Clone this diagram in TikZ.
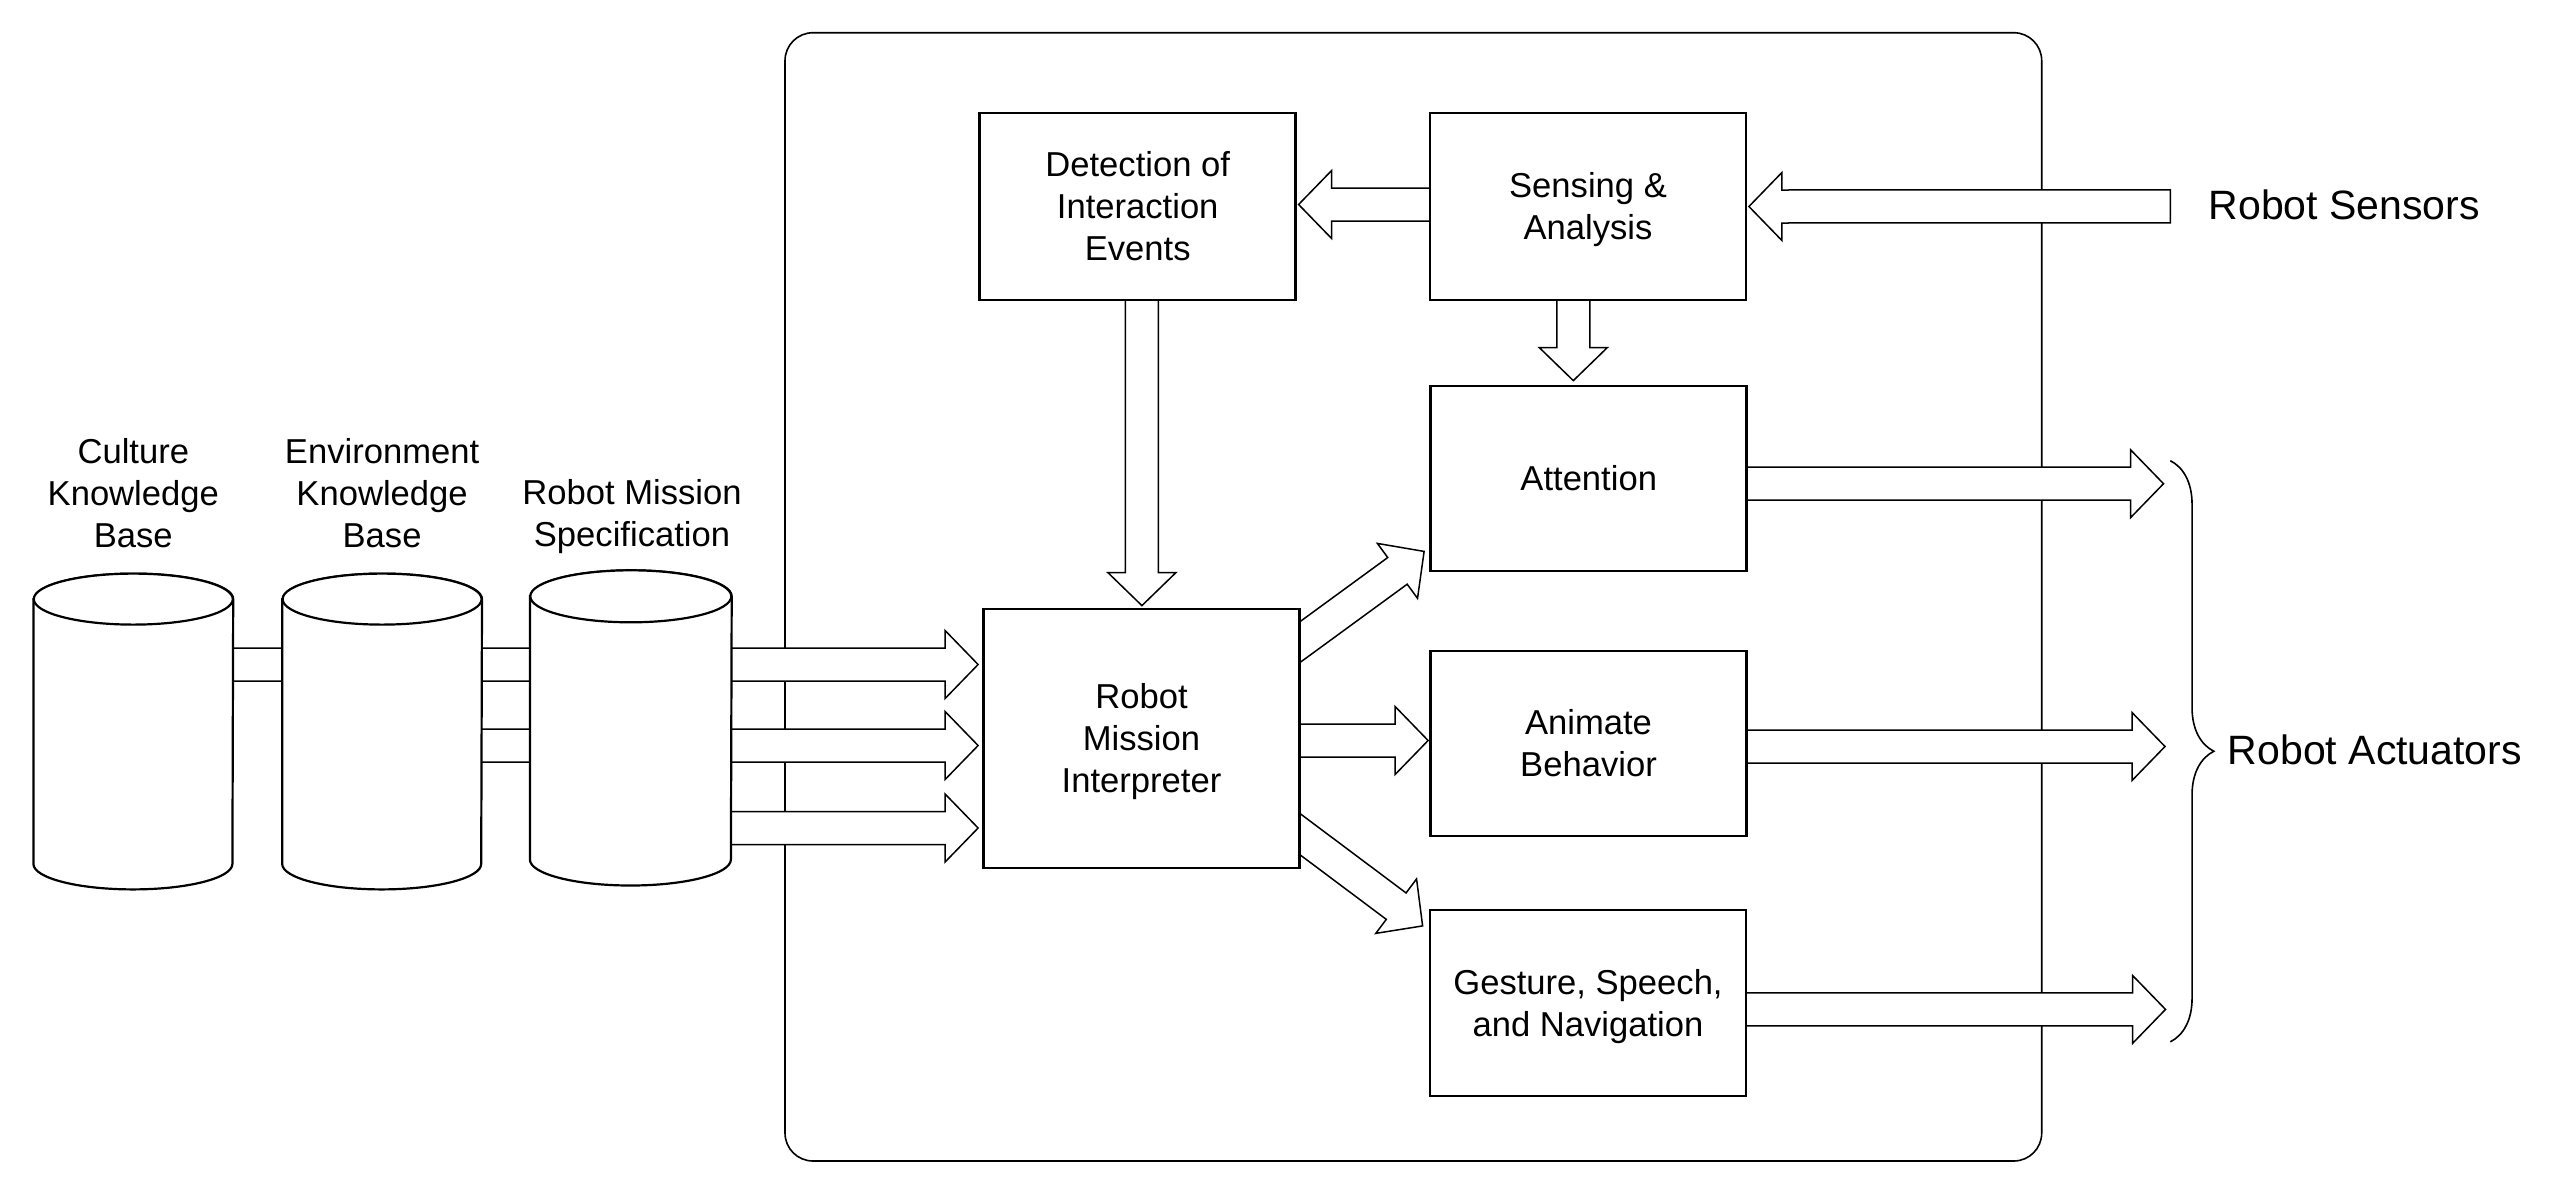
\documentclass[tikz,border=0pt]{standalone}
\usepackage{fontspec}
\setmainfont{Liberation Sans}
\usetikzlibrary{calc,decorations.pathreplacing}
\pgfdeclarelayer{back}
\pgfdeclarelayer{mid}
\pgfsetlayers{back,mid,main}
\newcommand\boxfont{\fontsize{17.3pt}{21pt}\selectfont}
\newcommand\bigfont{\fontsize{20.5pt}{24pt}\selectfont}
\newcommand\upstrut{\rule{0pt}{16pt}}
% fat hollow arrow from #1 (start) to #2 (tip)
\newcommand\fatarrow[2]{%
  \draw[fatarr] ($(#1)!8.25pt!90:(#2)$)
    -- ($(#2)!16.5pt!(#1)!8.25pt!90:(#2)$)
    -- ($(#2)!16.5pt!(#1)!17pt!90:(#2)$)
    -- (#2)
    -- ($(#2)!16.5pt!(#1)!17pt!-90:(#2)$)
    -- ($(#2)!16.5pt!(#1)!8.25pt!-90:(#2)$)
    -- ($(#1)!8.25pt!-90:(#2)$) -- cycle;}
% cylinder outline drawn on a named node: name, x radius, y radius
\newcommand\drawcyl[3]{%
  \draw[cylline] ($(#1.north west)+(0,#3)$) -- ($(#1.south west)+(0,-#3)$)
    arc[start angle=180,end angle=0,x radius=#2,y radius=#3]
    -- ($(#1.north east)+(0,#3)$)
    arc[start angle=0,end angle=-180,x radius=#2,y radius=#3] -- cycle;
  \draw[cylline] ($(#1.north)+(0,#3)$) ellipse[x radius=#2,y radius=#3];}
\begin{document}
\begin{tikzpicture}[x=0.5pt,y=-0.5pt,
  box/.style={draw,line width=1.4pt,fill=white,minimum width=158pt,
    align=center,inner sep=0pt,font=\boxfont},
  cylnode/.style={draw=none,inner sep=0pt},
  cylline/.style={line width=1.1pt,fill=white},
  lbl/.style={align=center,inner sep=0pt,font=\boxfont},
  biglbl/.style={inner sep=0pt,font=\bigfont},
  fatarr/.style={draw,line width=0.75pt,fill=white,line join=miter},
  bracestyle/.style={line width=0.8pt,decorate,decoration={brace,amplitude=21.75pt}}]
\useasboundingbox (0,0) rectangle (2568,1190);

% outer system frame
\begin{pgfonlayer}{back}
\node[draw,line width=0.8pt,rounded corners=14pt,minimum width=628.35pt,
  minimum height=564.15pt,inner sep=0pt] (sys) at (1413.35,596.85) {};
\end{pgfonlayer}

% processing boxes
\node[box,minimum height=93.5pt] (det) at (1137.7,206.5) {Detection of\\Interaction\\Events};
\node[box,minimum height=93.5pt] (sens) at (1588,206.5) {\upstrut Sensing \&\\Analysis};
\node[box,minimum height=92.5pt] (att) at (1588.7,478.5) {Attention};
\node[box,minimum height=129.5pt] (rmi) at (1141.5,738.5) {\upstrut Robot\\Mission\\Interpreter};
\node[box,minimum height=92.5pt] (anim) at (1588.5,743.5) {Animate\\Behavior};
\node[box,minimum height=93pt] (gest) at (1588,1003) {\upstrut Gesture, Speech,\\and Navigation};

% databases
\node[cylnode,minimum width=99.5pt,minimum height=157.5pt] (cul) at (133.3,731.5) {};
\node[cylnode,minimum width=99.5pt,minimum height=157.5pt] (env) at (382.1,731.5) {};
\node[cylnode,minimum width=100.5pt,minimum height=157.2pt] (rms) at (630.8,727.9) {};
\drawcyl{cul}{99.5}{25.5}
\drawcyl{env}{99.5}{25.5}
\drawcyl{rms}{100.5}{26}
\node[lbl] (culL) at (133.3,492.8) {Culture\\Knowledge\\Base};
\node[lbl] (envL) at (382.1,492.8) {Environment\\Knowledge\\Base};
\node[lbl] (rmsL) at (632,516.2) {Robot Mission\\Specification};

% outside labels
\node[biglbl,anchor=base west] (sensors) at (2208.3,219.2) {Robot Sensors};
\node[biglbl,anchor=base west] (actuators) at (2227.5,764.2) {Robot Actuators};

% connector end points
\coordinate (a1s) at ($(cul.center)+(0,-67)$);
\coordinate (a1t) at ($(rmi.west)+(-4,-74)$);
\coordinate (a2s) at ($(env.center)+(0,14)$);
\coordinate (a2t) at ($(rmi.west)+(-4,7)$);
\coordinate (a3s) at ($(rms.center)+(0,100.1)$);
\coordinate (a3t) at ($(rmi.west)+(-4,89.5)$);
\coordinate (sdS) at ($(sens.center)+(0,-2)$);
\coordinate (sdT) at ($(det.east)+(1.5,-2)$);
\coordinate (sinS) at ($(sensors.base west)+(-38,-12.8)$);
\coordinate (sinT) at ($(sens.east)+(1.5,0)$);
\coordinate (saS) at ($(sens.center)+(-14.7,0)$);
\coordinate (saT) at ($(att.north)+(-15.4,-4)$);
\coordinate (drS) at ($(det.center)+(4.2,0)$);
\coordinate (drT) at ($(rmi.north)+(0.4,-2)$);
\coordinate (raS) at ($(rmi.north east)+(-40,63)$);
\coordinate (raT) at ($(att.south west)+(-5.2,-21)$);
\coordinate (rbS) at ($(rmi.center)+(0,2)$);
\coordinate (rbT) at ($(anim.west)+(-1,-3)$);
\coordinate (rgS) at ($(rmi.north east)+(-40,197.3)$);
\coordinate (rgT) at ($(gest.north west)+(-6,17.3)$);
\coordinate (o1S) at ($(att.center)+(0,5.2)$);
\coordinate (o1T) at ($(o1S)+(574.8,0)$);
\coordinate (o2S) at ($(anim.center)+(0,3)$);
\coordinate (o2T) at ($(o2S)+(576.5,0)$);
\coordinate (o3S) at ($(gest.center)+(0,6.4)$);
\coordinate (o3T) at ($(o3S)+(577.5,0)$);

\begin{pgfonlayer}{mid}
\fatarrow{a1s}{a1t}
\fatarrow{a2s}{a2t}
\fatarrow{a3s}{a3t}
\fatarrow{sdS}{sdT}
\fatarrow{sinS}{sinT}
\fatarrow{saS}{saT}
\fatarrow{drS}{drT}
\fatarrow{raS}{raT}
\fatarrow{rbS}{rbT}
\fatarrow{rgS}{rgT}
\fatarrow{o1S}{o1T}
\fatarrow{o2S}{o2T}
\fatarrow{o3S}{o3T}
\end{pgfonlayer}

% brace grouping the actuator outputs
\coordinate (brT) at ($(o1T)+(6.8,-23)$);
\coordinate (brB) at ($(o3T)+(4.8,32.4)$);
\draw[bracestyle] (brT) -- (brB);
\end{tikzpicture}
\end{document}
